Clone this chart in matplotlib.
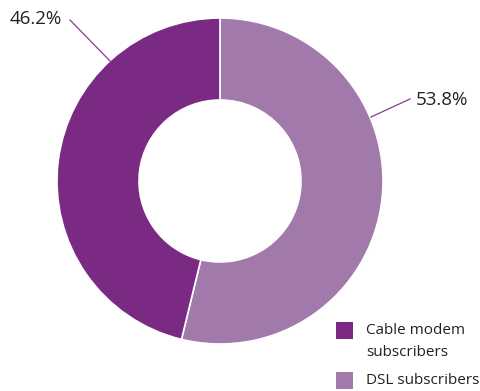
import matplotlib.pyplot as plt
from matplotlib.patches import Rectangle

labels = ["DSL subscribers", "Cable modem subscribers"]
shares = [53.8, 46.2]
pct_text = ["53.8%", "46.2%"]
colors = ["#a17aab", "#7b2a84"]

W, H = 480, 391
fig = plt.figure(figsize=(W / 100, H / 100), dpi=100)
ax = fig.add_axes([0, 0, 1, 1])
ax.axis("off")


def py(y):
    # pixel row from top -> data y
    return H - y


ax.pie(shares, colors=colors, startangle=90, counterclock=False,
       center=(220, py(181)), radius=163,
       wedgeprops=dict(width=82, edgecolor="white", linewidth=1.2))
ax.set_xlim(0, W)
ax.set_ylim(0, H)
ax.set_aspect("auto")

font = "Open Sans"
line_c = "#8a3a94"

# 46.2% label and leader
ax.plot([70, 111], [py(20), py(62)], color=line_c, lw=0.9)
ax.text(36, py(19), pct_text[1], ha="center", va="center",
        fontsize=13.5, family=font, color="#222222")
# 53.8% label and leader
ax.plot([410, 371], [py(99), py(117)], color=line_c, lw=0.9)
ax.text(442, py(100), pct_text[0], ha="center", va="center",
        fontsize=13.5, family=font, color="#222222")

# legend
ax.add_patch(Rectangle((336, py(339)), 17, 17, color=colors[1], lw=0))
ax.text(366, py(331), "Cable modem", ha="left", va="center",
        fontsize=11, family=font, color="#222222")
ax.text(366, py(352), "subscribers", ha="left", va="center",
        fontsize=11, family=font, color="#222222")
ax.add_patch(Rectangle((336, py(389)), 17, 17, color=colors[0], lw=0))
ax.text(366, py(381), labels[0], ha="left", va="center",
        fontsize=11, family=font, color="#222222")

fig.savefig("out.png", dpi=100)
